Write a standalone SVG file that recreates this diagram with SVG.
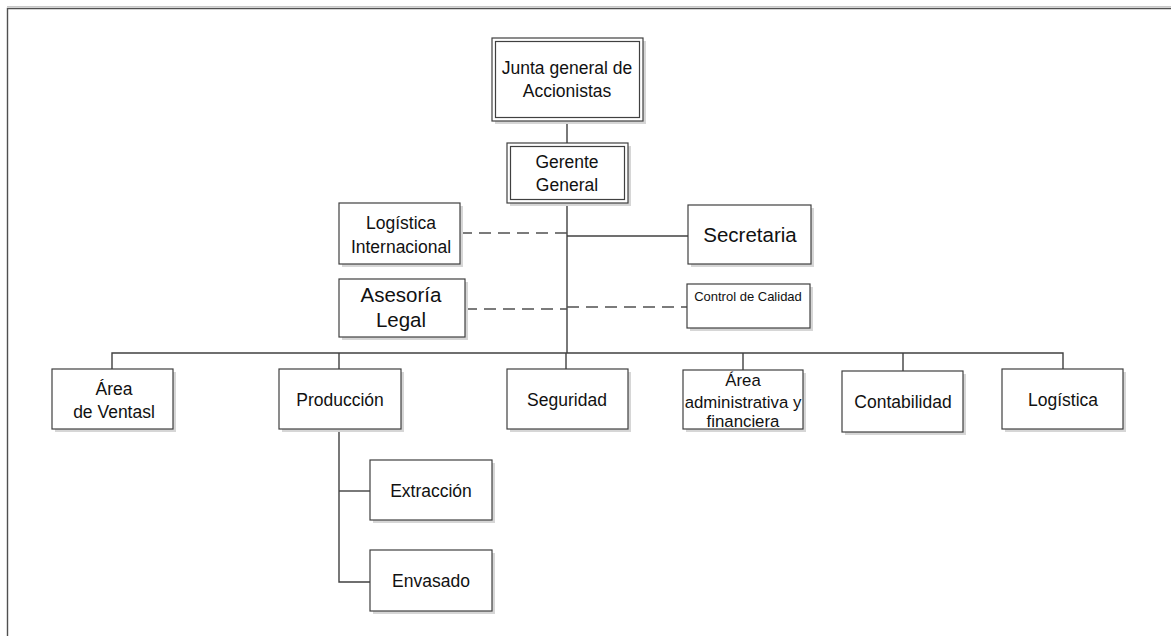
<svg xmlns="http://www.w3.org/2000/svg" width="1171" height="636" viewBox="0 0 1171 636">
  <style>
    .box { fill: #ffffff; stroke: #404040; stroke-width: 1.2; }
    .shadow { fill: #d6d6d6; }
    .inner { fill: none; stroke: #404040; stroke-width: 1.2; }
    .lbl { font-family: "Liberation Sans", Arial, sans-serif; font-size: 17.5px; fill: #111111; text-anchor: middle; }
    .big { font-size: 20.5px; }
    .small { font-size: 13px; }
    .tight { font-size: 16.8px; }
    .solid { fill: none; stroke: #404040; stroke-width: 1.4; }
    .dash { fill: none; stroke: #505050; stroke-width: 1.5; stroke-dasharray: 12 7; }
    .frame { fill: none; stroke: #505050; stroke-width: 1.4; }
  </style>

  <rect x="0" y="0" width="1171" height="636" fill="#ffffff"/>

  <!-- page frame -->
  <path class="frame" d="M7.5,636 V8.5 H1171"/>
  <path d="M7,6.5 H1171" stroke="#c8c8c8" stroke-width="1" fill="none"/>

  <!-- connectors -->
  <g id="connectors">
    <path class="solid" d="M567,121 V143"/>
    <path class="solid" d="M567,203 V353"/>
    <path class="dash" d="M460,233 H567"/>
    <path class="solid" d="M567,236 H688"/>
    <path class="dash" d="M465,309 H567"/>
    <path class="dash" d="M567,307 H687"/>
    <path class="solid" d="M112,369 V353 H1063 V369"/>
    <path class="solid" d="M339,353 V369"/>
    <path class="solid" d="M566,353 V369"/>
    <path class="solid" d="M743,353 V370"/>
    <path class="solid" d="M903,353 V371"/>
    <path class="solid" d="M339,429 V582 H370"/>
    <path class="solid" d="M339,491 H370"/>
  </g>

  <g id="junta">
    <rect class="shadow" x="495" y="41" width="151" height="83"/>
    <rect class="box" x="492" y="38" width="151" height="83"/>
    <rect class="inner" x="495.5" y="41.5" width="144" height="76"/>
    <text class="lbl" x="567" y="74">Junta general de</text>
    <text class="lbl" x="567" y="97">Accionistas</text>
  </g>

  <g id="gerente">
    <rect class="shadow" x="510" y="146" width="121" height="60"/>
    <rect class="box" x="507" y="143" width="121" height="60"/>
    <rect class="inner" x="510.5" y="146.5" width="114" height="53"/>
    <text class="lbl" x="567" y="168">Gerente</text>
    <text class="lbl" x="567" y="191">General</text>
  </g>

  <g id="logistica-internacional">
    <rect class="shadow" x="342" y="206" width="121" height="61"/>
    <rect class="box" x="339" y="203" width="121" height="61"/>
    <text class="lbl" x="401" y="229">Logística</text>
    <text class="lbl" x="401" y="253">Internacional</text>
  </g>

  <g id="secretaria">
    <rect class="shadow" x="691" y="208" width="123" height="59"/>
    <rect class="box" x="688" y="205" width="123" height="59"/>
    <text class="lbl big" x="750" y="242">Secretaria</text>
  </g>

  <g id="asesoria-legal">
    <rect class="shadow" x="342" y="282" width="126" height="58"/>
    <rect class="box" x="339" y="279" width="126" height="58"/>
    <text class="lbl big" x="401" y="302">Asesoría</text>
    <text class="lbl big" x="401" y="327">Legal</text>
  </g>

  <g id="control-calidad">
    <rect class="shadow" x="690" y="287" width="123" height="44"/>
    <rect class="box" x="687" y="284" width="123" height="44"/>
    <text class="lbl small" x="748" y="301">Control de Calidad</text>
  </g>

  <g id="area-ventas">
    <rect class="shadow" x="55" y="372" width="121" height="60"/>
    <rect class="box" x="52" y="369" width="121" height="60"/>
    <text class="lbl" x="114" y="395">Área</text>
    <text class="lbl" x="114" y="418">de Ventasl</text>
  </g>

  <g id="produccion">
    <rect class="shadow" x="282" y="372" width="122" height="60"/>
    <rect class="box" x="279" y="369" width="122" height="60"/>
    <text class="lbl" x="340" y="406">Producción</text>
  </g>

  <g id="seguridad">
    <rect class="shadow" x="510" y="372" width="121" height="60"/>
    <rect class="box" x="507" y="369" width="121" height="60"/>
    <text class="lbl" x="567" y="406">Seguridad</text>
  </g>

  <g id="area-administrativa">
    <rect class="shadow" x="686" y="373" width="120" height="59"/>
    <rect class="box" x="683" y="370" width="120" height="59"/>
    <text class="lbl tight" x="743" y="386">Área</text>
    <text class="lbl tight" x="743" y="408">administrativa y</text>
    <text class="lbl tight" x="743" y="427">financiera</text>
  </g>

  <g id="contabilidad">
    <rect class="shadow" x="845" y="374" width="121" height="61"/>
    <rect class="box" x="842" y="371" width="121" height="61"/>
    <text class="lbl" x="903" y="408">Contabilidad</text>
  </g>

  <g id="logistica">
    <rect class="shadow" x="1005" y="372" width="121" height="60"/>
    <rect class="box" x="1002" y="369" width="121" height="60"/>
    <text class="lbl" x="1063" y="406">Logística</text>
  </g>

  <g id="extraccion">
    <rect class="shadow" x="373" y="463" width="122" height="60"/>
    <rect class="box" x="370" y="460" width="122" height="60"/>
    <text class="lbl" x="431" y="497">Extracción</text>
  </g>

  <g id="envasado">
    <rect class="shadow" x="373" y="553" width="122" height="61"/>
    <rect class="box" x="370" y="550" width="122" height="61"/>
    <text class="lbl" x="431" y="587">Envasado</text>
  </g>
</svg>
